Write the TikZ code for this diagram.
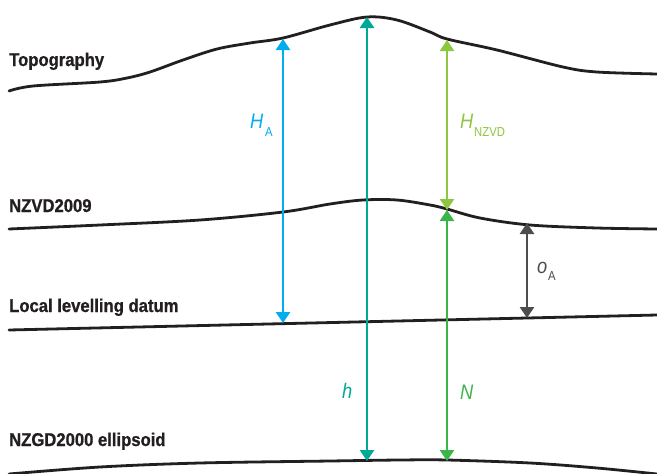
\documentclass[tikz,border=0pt]{standalone}
\usepackage{fontspec}
\usetikzlibrary{arrows.meta}
\newfontfamily\lab{Liberation Sans}[FakeStretch=0.87]
\newfontfamily\heavy{Liberation Sans}[FakeStretch=0.9, BoldFeatures={FakeBold=0.9}]
\definecolor{cHA}{RGB}{0,174,239}
\definecolor{ch}{RGB}{0,168,150}
\definecolor{cHN}{RGB}{141,198,63}
\definecolor{cN}{RGB}{57,181,74}
\definecolor{cO}{RGB}{77,77,77}
\definecolor{ink}{RGB}{35,31,32}
\tikzset{
  surface/.style={line width=2.8pt, ink, line cap=round},
  dimarrow/.style={line width=2.7pt, {Triangle[width=14pt,length=11pt]}-{Triangle[width=14pt,length=11pt]}},
  layername/.style={anchor=base west, inner sep=0pt, text=ink, font=\heavy\bfseries\fontsize{18.5}{18.5}\selectfont},
  sym/.style={anchor=base west, inner sep=0pt, font=\lab\itshape\fontsize{21}{21}\selectfont},
  subs/.style={anchor=base west, inner sep=0pt, font=\lab\fontsize{13}{13}\selectfont}
}
\begin{document}
\begin{tikzpicture}[x=1pt,y=-1pt]
\useasboundingbox (0,0) rectangle (657,474);
% surfaces
\draw[surface] plot[smooth, tension=0.55] coordinates {(9,91) (33,86) (100,82) (127,78) (150,72) (183,60) (217,49) (250,43) (283,38) (330,25) (367,17) (397,20) (430,32) (447,39) (497,50) (563,67) (597,72) (657,74)};
\draw[surface] plot[smooth, tension=0.55] coordinates {(9,229) (100,225) (200,220) (283,212) (330,204) (363,200) (397,200) (430,205) (447,209) (480,218) (530,225) (597,228) (657,229)};
\draw[surface] (9,330) -- (657,315);
\draw[surface] plot[smooth, tension=0.55] coordinates {(9,474) (100,467) (200,463) (330,461) (400,460) (447,460) (530,463) (597,468) (657,474)};
% layer names
\node[layername] (topo) at (9,66) {Topography};
\node[layername] (nzvd) at (9,212) {NZVD2009};
\node[layername] (lld) at (9,312) {Local levelling datum};
\node[layername] (ell) at (9,446) {NZGD2000 ellipsoid};
% arrow end points
\coordinate (ha1) at (283,39);
\coordinate (ha2) at (283,323);
\coordinate (h1) at (367,17);
\coordinate (h2) at (367,461);
\coordinate (hn1) at (447,40);
\coordinate (hn2) at (447,210);
\coordinate (n1) at (447,210);
\coordinate (n2) at (447,461);
\coordinate (o1) at (527,223);
\coordinate (o2) at (527,318);
\draw[dimarrow, cHA] (ha1) -- (ha2);
\draw[dimarrow, ch] (h1) -- (h2);
\draw[dimarrow, cHN] (hn1) -- (hn2);
\draw[dimarrow, cN] (n2) -- (n1);
\draw[dimarrow, cO] (o1) -- (o2);
% labels
\node[sym, text=cHA] (HA) at (250,128) {H};
\node[subs, text=cHA] (HAs) at (265,136) {A};
\node[sym, text=cHN] (HN) at (460,128) {H};
\node[subs, text=cHN] (HNs) at (474,136) {NZVD};
\node[sym, text=ch] (hl) at (342,398) {h};
\node[sym, text=cN] (Nl) at (460,399) {N};
\node[sym, text=cO] (ol) at (537,273) {o};
\node[subs, text=cO] (ols) at (548,280) {A};
\end{tikzpicture}
\end{document}
